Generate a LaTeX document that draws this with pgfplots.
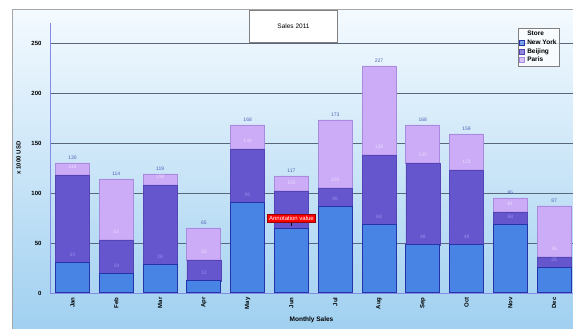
\documentclass[border=0pt]{standalone}
\usepackage{pgfplots}
\pgfplotsset{compat=1.18}
\usepackage{pgfplotstable}
\usetikzlibrary{backgrounds}
\usepackage{fontspec}
\setmainfont{Liberation Sans}

\definecolor{nyf}{RGB}{72,132,228}
\definecolor{nyd}{RGB}{38,50,170}
\definecolor{bjf}{RGB}{102,86,206}
\definecolor{bjd}{RGB}{84,68,182}
\definecolor{paf}{RGB}{204,172,246}
\definecolor{pad}{RGB}{168,138,222}
\definecolor{bgtop}{RGB}{244,250,255}
\definecolor{bgbot}{RGB}{160,208,240}
\definecolor{gridc}{RGB}{88,102,126}
\definecolor{toplab}{RGB}{80,100,180}
\definecolor{nylab}{RGB}{150,142,238}
\definecolor{bjlab}{RGB}{232,220,255}
\definecolor{axc}{RGB}{130,140,230}

\pgfplotstableread{
x ny bj pa nyl bjl tot
0 30 88 12 30 118 130
1 19 34 61 19 53 114
2 28 80 11 28 108 119
3 12 21 32 12 33 65
4 90 54 24 90 144 168
5 64 38 15 {} 102 117
6 86 19 68 86 105 173
7 68 70 89 68 138 227
8 48 82 38 48 130 168
9 48 75 36 48 123 159
10 68 13 14 68 81 95
11 25 11 51 25 36 87
}\sales

\begin{document}
\begin{tikzpicture}
\begin{axis}[
  name=ax,
  scale only axis, width=523pt, height=270pt,
  ybar stacked, bar width=34pt,
  xmin=-0.514, xmax=11.43,
  ymin=0, ymax=270,
  ytick={0,50,100,150,200,250},
  xtick={0,...,11},
  xticklabels={Jan,Feb,Mar,Apr,May,Jun,Jul,Aug,Sep,Oct,Nov,Dec},
  major tick length=0pt,
  axis lines*=left,
  axis line style={draw=axc, line width=0.8pt},
  ymajorgrids, grid style={draw=gridc, line width=0.8pt},
  /pgf/number format/assume math mode=true,
  yticklabel style={font=\bfseries\fontsize{6}{6}\selectfont, xshift=-5pt},
  xticklabel style={font=\bfseries\fontsize{6}{6}\selectfont, rotate=90, anchor=east, xshift=-1pt},
  xlabel={Monthly Sales},
  xlabel style={font=\bfseries\fontsize{6.5}{6.5}\selectfont, yshift=-1pt},
  ylabel={x 1000 USD},
  ylabel style={font=\bfseries\fontsize{6}{6}\selectfont, yshift=4pt},
  point meta=explicit symbolic,
  nodes near coords,
  visualization depends on={rawy \as \segv},
  every node near coord/.append style={font=\fontsize{5}{5}\selectfont, inner sep=1pt, anchor=south, yshift={0.5*\segv*1pt}},
  legend style={at={(0.895,0.981)}, anchor=north west, draw=gray, fill=white, fill opacity=0.7, text opacity=1,
    font=\bfseries\fontsize{6.5}{7}\selectfont, inner sep=1pt, row sep=-1.5pt, cells={anchor=west}},
  legend image code/.code={\fill[#1] (0pt,-2.5pt) rectangle (5pt,2.5pt);},
]
\addlegendimage{empty legend}
\addlegendentry{Store}
\addplot[fill=nyf, draw=nyd, line width=1pt, every node near coord/.append style={color=nylab, yshift=5pt}] table[x=x, y=ny, meta=nyl] {\sales};
\addlegendentry{New York}
\addplot[fill=bjf, draw=bjd, line width=0.6pt, every node near coord/.append style={color=bjlab, yshift=5pt}] table[x=x, y=bj, meta=bjl] {\sales};
\addlegendentry{Beijing}
\addplot[fill=paf, draw=pad, line width=0.8pt, every node near coord/.append style={color=toplab, yshift=2.5pt}] table[x=x, y=pa, meta=tot] {\sales};
\addlegendentry{Paris}
\coordinate (annpt) at (axis cs:5,67);
\coordinate (annbox) at (axis cs:5,75);
\end{axis}
\draw[black, line width=1pt] (annpt) -- ++(0,3pt);
\node[fill=red, draw=red!60!black, text=white, inner sep=1.5pt, font=\fontsize{6}{6}\selectfont] at (annbox) {Annotation value};
\begin{scope}[shift={(ax.south west)}]
\node[draw=gray, fill=white, line width=0.8pt, minimum width=88pt, minimum height=32pt, font=\fontsize{6.5}{7}\selectfont] at (243.5pt,266.5pt) {Sales 2011};
\end{scope}
\begin{scope}[on background layer, shift={(ax.south west)}]
\fill[white] (-50pt,-36pt) rectangle (523pt,293pt);
\shade[top color=bgtop, bottom color=bgbot] (-37pt,-36pt) rectangle (530pt,283pt);
\draw[gray!70, line width=1pt] (-37pt,-36pt) -- (-37pt,283pt) -- (530pt,283pt);
\end{scope}
\pgfresetboundingbox
\path[use as bounding box] ([shift={(-50pt,-36pt)}]ax.south west) rectangle ([shift={(523pt,293pt)}]ax.south west);
\end{tikzpicture}
\end{document}
